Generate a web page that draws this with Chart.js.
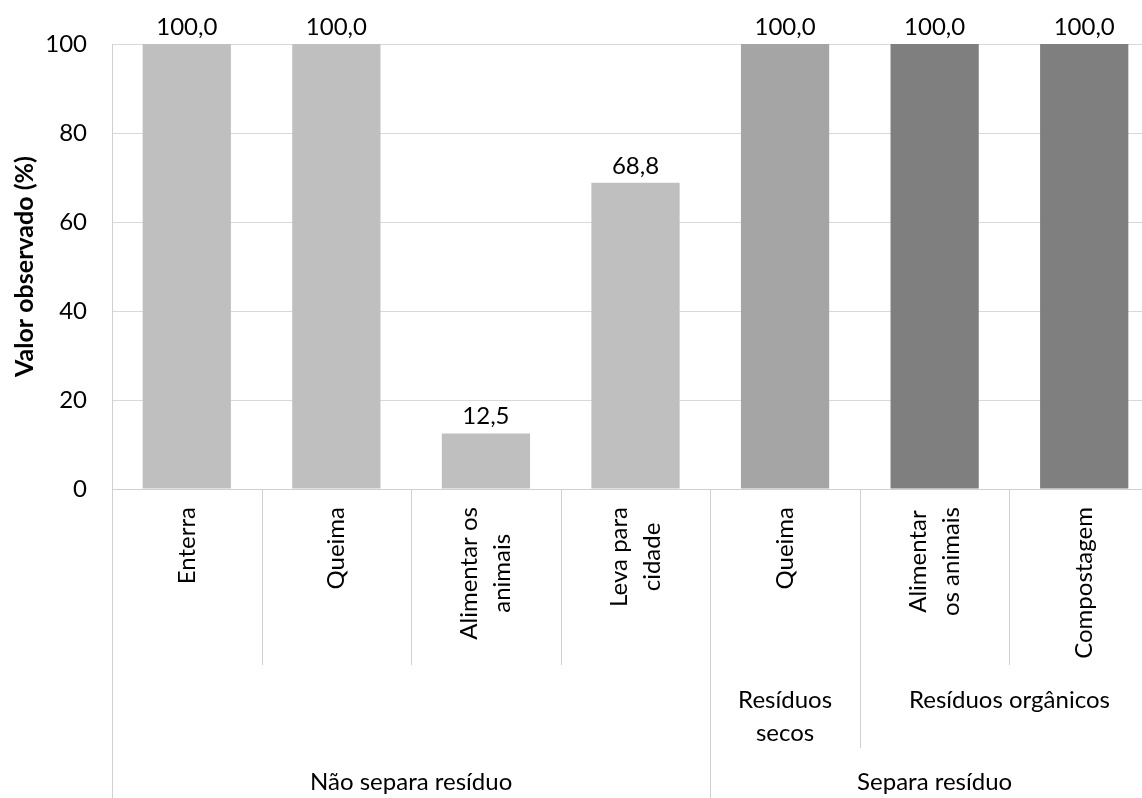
<!DOCTYPE html>
<html>
<head>
<meta charset="utf-8">
<script src="https://cdn.jsdelivr.net/npm/chart.js@4/dist/chart.umd.min.js"></script>
<style>
  body { margin: 0; background: #fff; }
  #wrap { width: 1142px; height: 798px; overflow: hidden; }
</style>
</head>
<body>
<div id="wrap"><canvas id="chart" width="1160" height="798"></canvas></div>
<script>
// categories (first level, shown rotated)
const categories = [
  ["Enterra"],
  ["Queima"],
  ["Alimentar os", "animais"],
  ["Leva para", "cidade"],
  ["Queima"],
  ["Alimentar", "os animais"],
  ["Compostagem"]
];
// second and third level groups (index ranges into categories)
const subGroups = [
  { label: ["Resíduos", "secos"], from: 4, to: 4 },
  { label: ["Resíduos orgânicos"], from: 5, to: 6 }
];
const mainGroups = [
  { label: "Não separa resíduo", from: 0, to: 3 },
  { label: "Separa resíduo", from: 4, to: 6 }
];
const values = [100.0, 100.0, 12.5, 68.8, 100.0, 100.0, 100.0];
const barColors = ["#bfbfbf", "#bfbfbf", "#bfbfbf", "#bfbfbf", "#a5a5a5", "#7f7f7f", "#7f7f7f"];
const yTicks = [0, 20, 40, 60, 80, 100];

const FONT = "Lato";
const lineColor = "#d0d0d0";

const multiLevelAxis = {
  id: "multiLevelAxis",
  afterDraw(chart) {
    const ctx = chart.ctx;
    const area = chart.chartArea;
    const x = chart.scales.x;
    const w = (area.right - area.left) / categories.length;
    const edge = (i) => area.left + i * w;
    const bottom = area.bottom;

    ctx.save();
    ctx.strokeStyle = lineColor;
    ctx.lineWidth = 1;
    ctx.fillStyle = "#000";
    ctx.font = "24px " + FONT;

    // separators: longer for higher level group edges
    const line = (px, y2) => {
      ctx.beginPath();
      ctx.moveTo(Math.round(px) + 0.5, bottom);
      ctx.lineTo(Math.round(px) + 0.5, y2);
      ctx.stroke();
    };
    for (let i = 0; i < categories.length; i++) {
      let end = bottom + 176;
      if (mainGroups.some(g => g.from === i)) end = chart.height;
      else if (subGroups.some(g => g.from === i)) end = bottom + 259;
      line(edge(i), end);
    }

    // first level, rotated labels
    const lh = 33;
    categories.forEach((lines, i) => {
      const cx = x.getPixelForValue(i);
      const maxW = Math.max(...lines.map(t => ctx.measureText(t).width));
      ctx.save();
      ctx.translate(cx, bottom + 18);
      ctx.rotate(-Math.PI / 2);
      ctx.textAlign = "center";
      ctx.textBaseline = "middle";
      lines.forEach((t, j) => {
        ctx.fillText(t, -maxW / 2, (j - (lines.length - 1) / 2) * lh);
      });
      ctx.restore();
    });

    // second level
    ctx.textAlign = "center";
    ctx.textBaseline = "middle";
    subGroups.forEach(g => {
      const cx = (edge(g.from) + edge(g.to + 1)) / 2;
      g.label.forEach((t, j) => ctx.fillText(t, cx, bottom + 211 + j * lh));
    });

    // third level
    mainGroups.forEach(g => {
      const cx = (edge(g.from) + edge(g.to + 1)) / 2;
      ctx.fillText(g.label, cx, bottom + 293);
    });
    ctx.restore();
  }
};

const valueLabels = {
  id: "valueLabels",
  afterDatasetsDraw(chart) {
    const ctx = chart.ctx;
    const meta = chart.getDatasetMeta(0);
    ctx.save();
    ctx.font = "24px " + FONT;
    ctx.fillStyle = "#000";
    ctx.textAlign = "center";
    ctx.textBaseline = "alphabetic";
    meta.data.forEach((bar, i) => {
      const txt = values[i].toFixed(1).replace(".", ",");
      ctx.fillText(txt, bar.x, bar.y - 9);
    });
    ctx.restore();
  }
};

new Chart(document.getElementById("chart"), {
  type: "bar",
  data: {
    labels: categories.map(c => c.join(" ")),
    datasets: [{
      data: values,
      backgroundColor: barColors,
      borderWidth: 0,
      barPercentage: 0.59,
      categoryPercentage: 1.0
    }]
  },
  options: {
    responsive: false,
    devicePixelRatio: 1,
    animation: false,
    layout: { padding: { top: 44, right: 1, left: 0, bottom: 0 } },
    plugins: {
      legend: { display: false },
      tooltip: { enabled: false }
    },
    scales: {
      x: {
        grid: { display: false },
        border: { display: true, color: lineColor },
        ticks: { display: false },
        afterFit(scale) { scale.height = 309; }
      },
      y: {
        min: 0,
        max: 100,
        afterBuildTicks(scale) { scale.ticks = yTicks.map(v => ({ value: v })); },
        grid: { color: "#d9d9d9", drawTicks: false },
        border: { display: true, color: lineColor },
        ticks: {
          padding: 25,
          color: "#000",
          font: { family: FONT, size: 24 }
        },
        title: {
          display: true,
          text: "Valor observado (%)",
          color: "#000",
          font: { family: FONT, size: 25, weight: "bold" },
          padding: { top: 10, bottom: 0 }
        },
        afterFit(scale) { scale.width = 112; }
      }
    }
  },
  plugins: [multiLevelAxis, valueLabels]
});
</script>
</body>
</html>
